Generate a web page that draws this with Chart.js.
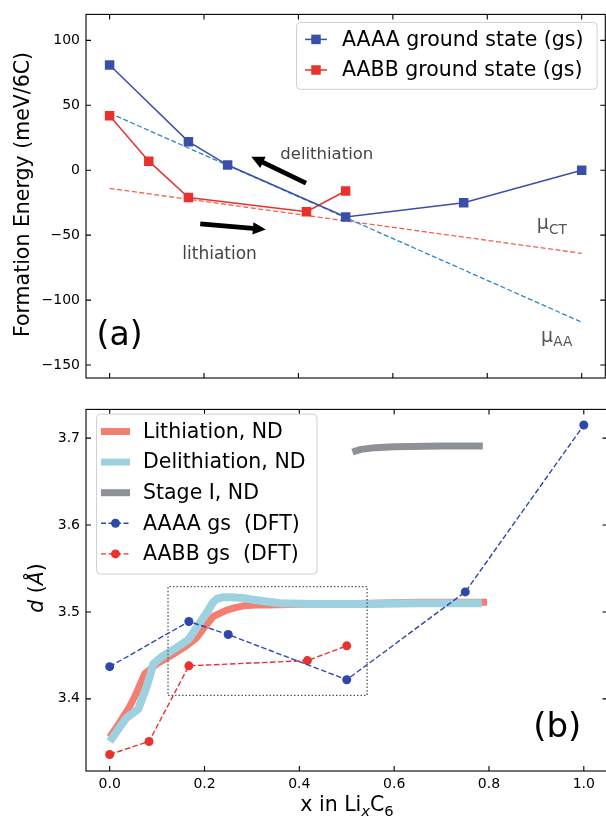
<!DOCTYPE html>
<html>
<head>
<meta charset="utf-8">
<script src="https://cdn.jsdelivr.net/npm/chart.js@4.4.1/dist/chart.umd.min.js"></script>
<style>
  html, body { margin: 0; padding: 0; background: #fff; overflow: hidden; width: 606px; height: 816px; }
  #wrap { position: relative; width: 612px; height: 816px; }
  canvas { position: absolute; left: 0; }
  #c1 { top: 0; }
  #c2 { top: 395px; }
</style>
</head>
<body>
<div id="wrap">
  <canvas id="c1" width="612" height="395"></canvas>
  <canvas id="c2" width="612" height="421"></canvas>
</div>
<script>
// ---- (a) formation energy, meV/6C
const xAAAA = [0, 0.167, 0.25, 0.5, 0.75, 1.0];
const eAAAA = [81, 22, 4, -36, -25, 0];
const xAABB = [0, 0.083, 0.167, 0.417, 0.5];
const eAABB = [42, 7, -21, -32, -16];
const xMu = [0, 1.0];
const eMuAA = [44, -117];
const eMuCT = [-14, -64];
const yTicksA = [-150, -100, -50, 0, 50, 100];
const xTicks = [0, 0.2, 0.4, 0.6, 0.8, 1.0];

// ---- (b) interlayer distance d, Angstrom
const dAAAA = [3.437, 3.489, 3.474, 3.422, 3.523, 3.715];
const dAABB = [3.336, 3.351, 3.438, 3.444, 3.461];
const xLith = [0, 0.02, 0.042, 0.055, 0.074, 0.099, 0.127, 0.162, 0.183, 0.201, 0.219, 0.235, 0.247, 0.265, 0.282, 0.31, 0.332, 0.43, 0.55, 0.65, 0.796];
const dLith = [3.356, 3.372, 3.391, 3.405, 3.429, 3.440, 3.449, 3.461, 3.470, 3.483, 3.495, 3.499, 3.502, 3.505, 3.507, 3.508, 3.508, 3.509, 3.510, 3.511, 3.511];
const xDelith = [0, 0.035, 0.06, 0.078, 0.092, 0.109, 0.141, 0.166, 0.187, 0.208, 0.218, 0.226, 0.24, 0.254, 0.28, 0.303, 0.33, 0.36, 0.43, 0.55, 0.65, 0.785];
const dDelith = [3.351, 3.378, 3.388, 3.414, 3.440, 3.448, 3.459, 3.468, 3.485, 3.502, 3.511, 3.515, 3.517, 3.517, 3.516, 3.514, 3.512, 3.510, 3.509, 3.509, 3.510, 3.510];
const xStage = [0.512, 0.53, 0.56, 0.6, 0.7, 0.787];
const dStage = [3.684, 3.687, 3.689, 3.690, 3.691, 3.691];
const xBox = [0.123, 0.543, 0.543, 0.123, 0.123];
const dBox = [3.404, 3.404, 3.529, 3.529, 3.404];
const yTicksB = [3.4, 3.5, 3.6, 3.7];

const BLUE = '#3a50a8', RED = '#e8322e';
const FONT = '"DejaVu Sans"';

const pts = (xs, ys) => xs.map((x, i) => ({ x: x, y: ys[i] }));

// text with optional subscript / italic pieces
function drawRich(ctx, x, y, segs, size, color, align, rot) {
  ctx.save();
  ctx.translate(x, y);
  ctx.rotate(rot || 0);
  ctx.fillStyle = color;
  ctx.textBaseline = 'middle';
  ctx.textAlign = 'left';
  const font = s => (s.it ? 'italic ' : '') + (s.sub ? size * 0.72 : size) + 'px ' + FONT;
  const widths = segs.map(s => { ctx.font = font(s); return ctx.measureText(s.t).width; });
  const w = widths.reduce((a, b) => a + b, 0);
  let cx = align === 'center' ? -w / 2 : align === 'right' ? -w : 0;
  segs.forEach((s, i) => {
    ctx.font = font(s);
    ctx.fillText(s.t, cx, s.sub ? size * 0.3 : 0);
    cx += widths[i];
  });
  ctx.restore();
}

function drawArrow(ctx, x0, y0, x1, y1) {
  const dx = x1 - x0, dy = y1 - y0, len = Math.hypot(dx, dy);
  const ux = dx / len, uy = dy / len, nx = -uy, ny = ux;
  const hl = 13, hw = 6.2, sw = 2.4;
  const bx = x1 - ux * hl, by = y1 - uy * hl;
  ctx.save();
  ctx.beginPath();
  ctx.moveTo(x0 + nx * sw, y0 + ny * sw);
  ctx.lineTo(bx + nx * sw, by + ny * sw);
  ctx.lineTo(bx + nx * hw, by + ny * hw);
  ctx.lineTo(x1, y1);
  ctx.lineTo(bx - nx * hw, by - ny * hw);
  ctx.lineTo(bx - nx * sw, by - ny * sw);
  ctx.lineTo(x0 - nx * sw, y0 - ny * sw);
  ctx.closePath();
  ctx.fillStyle = '#000';
  ctx.fill();
  ctx.restore();
}

function drawLegend(ctx, lg) {
  const [x0, y0, x1, y1] = lg.box;
  ctx.save();
  ctx.beginPath();
  ctx.roundRect(x0, y0, x1 - x0, y1 - y0, 4);
  ctx.fillStyle = 'rgba(255,255,255,0.85)';
  ctx.fill();
  ctx.strokeStyle = '#cfcfcf';
  ctx.lineWidth = 1;
  ctx.stroke();
  lg.rows.forEach((r, i) => {
    const y = lg.ys[i];
    const [sx0, sx1] = lg.sample;
    ctx.save();
    ctx.strokeStyle = r.color;
    ctx.fillStyle = r.color;
    ctx.lineWidth = r.width;
    ctx.lineCap = 'butt';
    ctx.setLineDash(r.dash || []);
    ctx.beginPath();
    ctx.moveTo(sx0, y);
    ctx.lineTo(sx1, y);
    ctx.stroke();
    ctx.setLineDash([]);
    const mx = (sx0 + sx1) / 2;
    if (r.marker === 'rect') ctx.fillRect(mx - 4.75, y - 4.75, 9.5, 9.5);
    if (r.marker === 'circle') { ctx.beginPath(); ctx.arc(mx, y, 4.5, 0, Math.PI * 2); ctx.fill(); }
    ctx.restore();
    ctx.fillStyle = '#000';
    ctx.font = '20.5px ' + FONT;
    ctx.textBaseline = 'middle';
    ctx.textAlign = 'left';
    ctx.fillText(r.label, lg.textX, y + 1);
  });
  ctx.restore();
}

// box around the axes with inward ticks on all four sides
function makeFrame(xt, yt) {
  return {
    id: 'frame',
    afterDatasetsDraw(chart) {
      const { ctx, chartArea: a, scales } = chart;
      const L = 5;
      ctx.save();
      ctx.strokeStyle = '#000';
      ctx.lineWidth = 1.1;
      ctx.strokeRect(a.left, a.top, a.right - a.left, a.bottom - a.top);
      ctx.beginPath();
      xt.forEach(v => {
        const p = scales.x.getPixelForValue(v);
        ctx.moveTo(p, a.bottom); ctx.lineTo(p, a.bottom - L);
        ctx.moveTo(p, a.top); ctx.lineTo(p, a.top + L);
      });
      yt.forEach(v => {
        const p = scales.y.getPixelForValue(v);
        ctx.moveTo(a.left, p); ctx.lineTo(a.left + L, p);
        ctx.moveTo(a.right, p); ctx.lineTo(a.right - L, p);
      });
      ctx.stroke();
      ctx.restore();
    }
  };
}

function makeDeco(cfg) {
  return {
    id: 'deco',
    afterDraw(chart) {
      const { ctx, scales: { x, y } } = chart;
      (cfg.arrows || []).forEach(a => drawArrow(ctx,
        x.getPixelForValue(a.from[0]), y.getPixelForValue(a.from[1]),
        x.getPixelForValue(a.to[0]), y.getPixelForValue(a.to[1])));
      (cfg.notes || []).forEach(n => drawRich(ctx, x.getPixelForValue(n.at[0]), y.getPixelForValue(n.at[1]),
        n.segs, n.size, n.color, n.align, 0));
      (cfg.titles || []).forEach(t => drawRich(ctx, t.px[0], t.px[1], t.segs, t.size, '#000', 'center', t.rot));
      if (cfg.legend) drawLegend(ctx, cfg.legend);
    }
  };
}

const fixTicks = vals => s => { s.ticks = vals.map(v => ({ value: v })); };
const minus = v => String(v).replace('-', '\u2212');

// ---------------- panel (a)
new Chart(document.getElementById('c1'), {
  type: 'line',
  data: {
    datasets: [
      { label: 'AAAA ground state (gs)', data: pts(xAAAA, eAAAA), borderColor: BLUE, backgroundColor: BLUE,
        borderWidth: 1.5, pointStyle: 'rect', pointRadius: 6.7, pointBorderWidth: 0, order: 1 },
      { label: 'AABB ground state (gs)', data: pts(xAABB, eAABB), borderColor: RED, backgroundColor: RED,
        borderWidth: 1.5, pointStyle: 'rect', pointRadius: 6.7, pointBorderWidth: 0, order: 2 },
      { label: 'mu_AA', data: pts(xMu, eMuAA), borderColor: '#2e85c8', borderWidth: 1.3,
        borderDash: [5, 2.5], pointRadius: 0, order: 3 },
      { label: 'mu_CT', data: pts(xMu, eMuCT), borderColor: '#f2624f', borderWidth: 1.3,
        borderDash: [5, 2.5], pointRadius: 0, order: 4 }
    ]
  },
  options: {
    responsive: false,
    animation: false,
    events: [],
    layout: { padding: { top: 11, right: 4, left: 0, bottom: 0 } },
    plugins: { legend: { display: false }, tooltip: { enabled: false } },
    scales: {
      x: {
        type: 'linear', min: -0.05, max: 1.05,
        grid: { display: false, drawTicks: false }, border: { display: false },
        ticks: { display: false },
        afterBuildTicks: fixTicks(xTicks),
        afterFit: s => { s.height = 17; }
      },
      y: {
        type: 'linear', min: -160, max: 120,
        grid: { display: false, drawTicks: false }, border: { display: false },
        ticks: { color: '#000', padding: 6, font: { family: 'DejaVu Sans', size: 14 }, callback: minus },
        afterBuildTicks: fixTicks(yTicksA),
        afterFit: s => { s.width = 86; }
      }
    }
  },
  plugins: [
    makeFrame(xTicks, yTicksA),
    makeDeco({
      arrows: [
        { from: [0.416, -10], to: [0.30, 10.4] },
        { from: [0.192, -41.3], to: [0.331, -45.7] }
      ],
      notes: [
        { at: [0.46, 11.7], segs: [{ t: 'delithiation' }], size: 16.5, color: '#444', align: 'center' },
        { at: [0.233, -64.7], segs: [{ t: 'lithiation' }], size: 17, color: '#444', align: 'center' },
        { at: [0.905, -41.8], segs: [{ t: '\u03bc' }, { t: 'CT', sub: true }], size: 19, color: '#555', align: 'left' },
        { at: [0.914, -128.3], segs: [{ t: '\u03bc' }, { t: 'AA', sub: true }], size: 19, color: '#555', align: 'left' },
        { at: [-0.0276, -128.3], segs: [{ t: '(a)' }], size: 33, color: '#000', align: 'left' }
      ],
      titles: [
        { px: [24, 194.5], rot: -Math.PI / 2, size: 20.5, segs: [{ t: 'Formation Energy (meV/6C)' }] }
      ],
      legend: {
        box: [296.5, 22.4, 597.2, 89.3], ys: [39.4, 70], sample: [305, 327], textX: 342,
        rows: [
          { label: 'AAAA ground state (gs)', color: BLUE, width: 1.5, marker: 'rect' },
          { label: 'AABB ground state (gs)', color: RED, width: 1.5, marker: 'rect' }
        ]
      }
    })
  ]
});

// ---------------- panel (b)
const DBLUE = '#2f47ab';
new Chart(document.getElementById('c2'), {
  type: 'line',
  data: {
    datasets: [
      { label: 'AAAA gs  (DFT)', data: pts(xAAAA, dAAAA), borderColor: DBLUE, backgroundColor: DBLUE,
        borderWidth: 1.4, borderDash: [5.5, 2.5], pointRadius: 4.5, pointBorderWidth: 0, order: 1 },
      { label: 'AABB gs  (DFT)', data: pts(xAABB, dAABB), borderColor: RED, backgroundColor: RED,
        borderWidth: 1.4, borderDash: [5.5, 2.5], pointRadius: 4.5, pointBorderWidth: 0, order: 2 },
      { label: 'box', data: pts(xBox, dBox), borderColor: '#555', borderWidth: 1.3,
        borderDash: [1.5, 2], pointRadius: 0, order: 3 },
      { label: 'Stage I, ND', data: pts(xStage, dStage), borderColor: '#8e9196', borderWidth: 7,
        pointRadius: 0, borderJoinStyle: 'round', borderCapStyle: 'butt', order: 4 },
      { label: 'Delithiation, ND', data: pts(xDelith, dDelith), borderColor: '#9dd1e0', borderWidth: 8,
        pointRadius: 0, borderJoinStyle: 'round', borderCapStyle: 'butt', order: 5 },
      { label: 'Lithiation, ND', data: pts(xLith, dLith), borderColor: '#f47e70', borderWidth: 7,
        pointRadius: 0, borderJoinStyle: 'round', borderCapStyle: 'butt', order: 6 }
    ]
  },
  options: {
    responsive: false,
    animation: false,
    events: [],
    layout: { padding: { top: 10, right: 4, left: 0, bottom: 0 } },
    plugins: { legend: { display: false }, tooltip: { enabled: false } },
    scales: {
      x: {
        type: 'linear', min: -0.05, max: 1.05,
        grid: { display: false, drawTicks: false }, border: { display: false },
        ticks: { color: '#000', padding: 5, autoSkip: false, maxRotation: 0,
          font: { family: 'DejaVu Sans', size: 14 }, callback: v => v.toFixed(1) },
        afterBuildTicks: fixTicks(xTicks),
        afterFit: s => { s.height = 45; }
      },
      y: {
        type: 'linear', min: 3.317, max: 3.733,
        grid: { display: false, drawTicks: false }, border: { display: false },
        ticks: { color: '#000', padding: 6, font: { family: 'DejaVu Sans', size: 14 }, callback: v => v.toFixed(1) },
        afterBuildTicks: fixTicks(yTicksB),
        afterFit: s => { s.width = 86; }
      }
    }
  },
  plugins: [
    makeFrame(xTicks, yTicksB),
    makeDeco({
      notes: [
        { at: [0.944, 3.366], segs: [{ t: '(b)' }], size: 34, color: '#000', align: 'center' }
      ],
      titles: [
        { px: [37.5, 193], rot: -Math.PI / 2, size: 20.5, segs: [{ t: 'd', it: true }, { t: ' (' }, { t: '\u00c5', it: true }, { t: ')' }] },
        { px: [347, 411], rot: 0, size: 20.5, segs: [{ t: 'x in Li' }, { t: 'x', sub: true, it: true }, { t: 'C' }, { t: '6', sub: true }] }
      ],
      legend: {
        box: [96.6, 19.1, 317, 179.1], ys: [36.5, 67.1, 97.7, 128.3, 158.9], sample: [101, 130], textX: 143,
        rows: [
          { label: 'Lithiation, ND', color: '#f47e70', width: 7 },
          { label: 'Delithiation, ND', color: '#9dd1e0', width: 7 },
          { label: 'Stage I, ND', color: '#8e9196', width: 7 },
          { label: 'AAAA gs  (DFT)', color: DBLUE, width: 1.4, dash: [5, 2.5], marker: 'circle' },
          { label: 'AABB gs  (DFT)', color: RED, width: 1.4, dash: [5, 2.5], marker: 'circle' }
        ]
      }
    })
  ]
});
</script>
</body>
</html>
